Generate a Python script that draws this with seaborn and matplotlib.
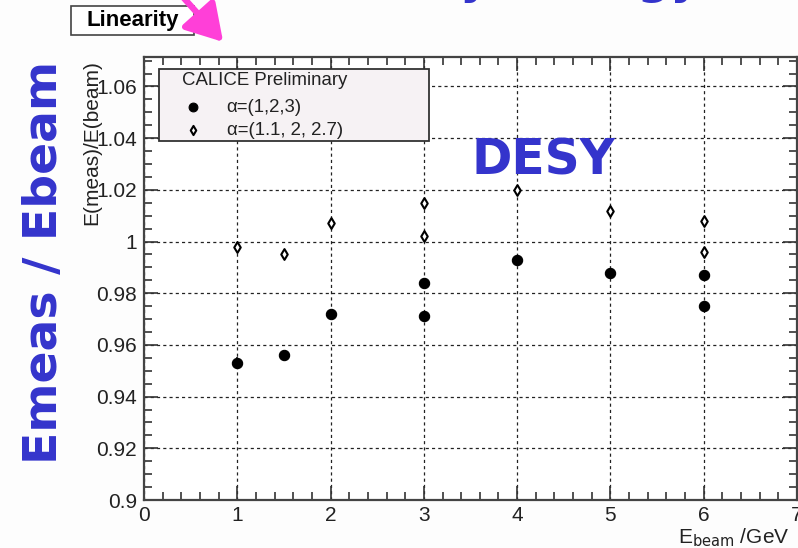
import matplotlib
matplotlib.use("Agg")
import matplotlib.pyplot as plt
from matplotlib.patches import Rectangle, FancyArrowPatch
from matplotlib.ticker import MultipleLocator
import pandas as pd
import seaborn as sns

# Beam energy (GeV) and reconstructed / beam energy ratio for two weight sets
e_beam_a = [1, 1.5, 2, 3, 3, 4, 5, 6, 6]
ratio_a = [0.953, 0.956, 0.972, 0.971, 0.984, 0.993, 0.988, 0.987, 0.975]
err_a = [0.0025, 0.001, 0.001, 0.001, 0.001, 0.001, 0.001, 0.001, 0.001]

e_beam_b = [1, 1.5, 2, 3, 3, 4, 5, 6, 6]
ratio_b = [0.998, 0.995, 1.007, 1.015, 1.002, 1.020, 1.012, 1.008, 0.996]
err_b = [0.002, 0.001, 0.001, 0.001, 0.001, 0.001, 0.001, 0.001, 0.001]

series_labels = ["\u03b1=(1,2,3)", "\u03b1=(1.1, 2, 2.7)"]
legend_title = "CALICE Preliminary"

x_ticks = [0, 1, 2, 3, 4, 5, 6, 7]
y_ticks = [0.90, 0.92, 0.94, 0.96, 0.98, 1.00, 1.02, 1.04, 1.06]
y_tick_labels = ["0.9", "0.92", "0.94", "0.96", "0.98", "1", "1.02", "1.04", "1.06"]

df = pd.DataFrame({
    "E": e_beam_a + e_beam_b,
    "ratio": ratio_a + ratio_b,
    "err": err_a + err_b,
    "set": [series_labels[0]] * len(e_beam_a) + [series_labels[1]] * len(e_beam_b),
})

sns.set_style("ticks")
plt.rcParams["font.family"] = ["Liberation Sans", "DejaVu Sans"]

W, H = 798, 548
fig = plt.figure(figsize=(W / 100, H / 100), dpi=100, facecolor="#fdfdfd")
ax = fig.add_axes([144 / W, 48 / H, (797 - 144) / W, (500 - 57) / H])
ax.set_facecolor("white")

ink = "#222222"

# error bars under the markers
for lab in series_labels:
    sub = df[df["set"] == lab]
    ax.errorbar(sub["E"], sub["ratio"], yerr=sub["err"], fmt="none",
                ecolor="black", elinewidth=1.1, capsize=0, zorder=3)

sub_a = df[df["set"] == series_labels[0]]
sub_b = df[df["set"] == series_labels[1]]
sns.scatterplot(data=sub_a, x="E", y="ratio", ax=ax, marker="o", s=55,
                color="black", edgecolor="black", linewidth=0.8, zorder=4,
                legend=False)
sns.scatterplot(data=sub_b, x="E", y="ratio", ax=ax, marker="d", s=30,
                color="white", edgecolor="black", linewidth=1.5, zorder=4,
                legend=False)

ax.set_xlim(0, 7)
ax.set_ylim(0.9, 1.0714)
ax.set_xticks(x_ticks)
ax.set_xticklabels([str(t) for t in x_ticks])
ax.set_yticks(y_ticks)
ax.set_yticklabels(y_tick_labels)
ax.xaxis.set_minor_locator(MultipleLocator(0.2))
ax.yaxis.set_minor_locator(MultipleLocator(0.005))
ax.tick_params(which="both", direction="in", top=True, right=True,
               color="#333333", width=1.2, labelsize=15, labelcolor=ink)
ax.tick_params(which="major", length=10)
ax.tick_params(which="minor", length=6)
ax.tick_params(axis="x", which="major", pad=4)
ax.tick_params(axis="y", which="major", pad=5)

ax.grid(which="major", linestyle=(0, (2.5, 2.5)), color=ink, linewidth=0.9)
ax.set_axisbelow(True)
for sp in ax.spines.values():
    sp.set_color("#444444")
    sp.set_linewidth(1.6)

ax.set_xlabel(r"E$_{\mathrm{beam}}$ /GeV", fontsize=15, color=ink, loc="right")
ax.xaxis.set_label_coords(0.988, -0.06)
ax.set_ylabel("E(meas)/E(beam)", fontsize=15, color=ink, loc="top")
ax.yaxis.set_label_coords(-0.066, 0.993)

# legend box
ax.add_patch(Rectangle((0.023, 0.8104), 0.4135, 0.1625, transform=ax.transAxes,
                       facecolor="#f6f2f4", edgecolor="#333333", linewidth=1.3,
                       zorder=5, clip_on=False))
ax.text(0.0582, 0.948, legend_title, transform=ax.transAxes, fontsize=13.4,
        color=ink, va="center", ha="left", zorder=6)
handles = ax.collections[-2:]
leg = ax.legend(handles, series_labels, loc="upper left",
                bbox_to_anchor=(0.0608, 0.905), frameon=False, borderpad=0,
                borderaxespad=0, handlelength=1.0, handletextpad=1.3,
                labelspacing=0.32, fontsize=13.4, labelcolor=ink,
                markerscale=0.85)
leg.set_zorder(7)

# header box
fig.add_artist(Rectangle((71 / W, (H - 35) / H), 123 / W, 29 / H,
                         transform=fig.transFigure, facecolor="white",
                         edgecolor="#444444", linewidth=1.2))
fig.text(132.5 / W, (H - 20.5) / H, "Linearity", fontsize=16, fontweight="bold",
         color="black", ha="center", va="center")

# hand-written annotations
blue = "#3434cc"
fig.text(45 / W, (H - 262) / H, "Emeas / Ebeam", rotation=90, fontsize=34,
         fontweight="bold", color=blue, family="DejaVu Sans",
         ha="center", va="center")
fig.text(543 / W, (H - 161) / H, "DESY", fontsize=35, fontweight="bold",
         color=blue, family="DejaVu Sans", ha="center", va="center")
fig.text(700 / W, 1.012, "Linearity, energy", fontsize=33, fontweight="bold",
         color=blue, family="DejaVu Sans", ha="right", va="baseline")
fig.add_artist(FancyArrowPatch(
    (182 / W, (H + 4) / H), (225 / W, (H - 44) / H), transform=fig.transFigure,
    arrowstyle="-|>,head_length=1.0,head_width=0.6", mutation_scale=22,
    color="#ff3fd8", linewidth=4.5))

fig.savefig("out.png", dpi=100, facecolor=fig.get_facecolor())
